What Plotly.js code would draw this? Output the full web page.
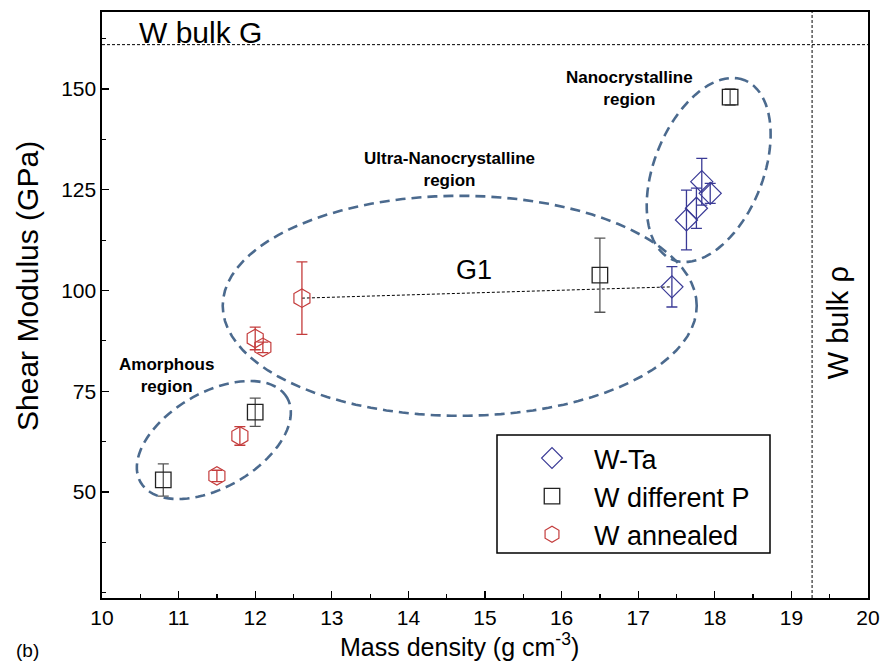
<!DOCTYPE html>
<html>
<head>
<meta charset="utf-8">
<script src="https://cdn.plot.ly/plotly-3.0.1.min.js"></script>
<style>html,body{margin:0;padding:0;background:#fff;}#chart{width:885px;height:663px;}</style>
</head>
<body>
<div id="chart"></div>
<script>
// ---- data ----
const wtaX = [17.44, 17.63, 17.76, 17.83, 17.94];
const wtaY = [100.9, 117.5, 120.4, 127.0, 124.1];
const wtaErr = [5.0, 7.4, 5.0, 5.8, 2.5];

const wpX = [10.80, 12.00, 16.50, 18.20];
const wpY = [53.0, 69.8, 103.8, 148.0];
const wpErr = [4.0, 3.5, 9.2, 2.0];

const waX = [11.50, 11.80, 12.00, 12.10, 12.61];
const waY = [54.0, 63.9, 88.1, 85.9, 98.1];
const waErr = [1.4, 2.3, 2.8, 1.3, 9.0];

const g1X = [12.61, 17.44];
const g1Y = [98.1, 100.9];

const bulkG = 161;
const bulkRho = 19.27;

const xTicks = [10, 11, 12, 13, 14, 15, 16, 17, 18, 19, 20];
const yTicks = [50, 75, 100, 125, 150];
const yMinor = [25, 37.5, 62.5, 87.5, 112.5, 137.5, 162.5];

// ---- layout geometry ----
const W = 885, H = 663;
const M = {l: 102, r: 17, t: 12, b: 65};
const PW = W - M.l - M.r, PH = H - M.t - M.b;
const xRange = [10, 20];
const yRange = [23.7, 169.1];
const sx = PW / (xRange[1] - xRange[0]);
const sy = PH / (yRange[1] - yRange[0]);
const px2paperX = p => (p - M.l) / PW;
const px2paperY = p => 1 - (p - M.t) / PH;

const FONT = 'Liberation Sans, Arial, sans-serif';
const ELL = '#4b6a8e';

function ellipsePath(cx, cy, aPx, bPx, angDeg) {
  const th = angDeg * Math.PI / 180;
  const pts = [];
  for (let i = 0; i <= 90; i++) {
    const t = 2 * Math.PI * i / 90;
    const dx = aPx * Math.cos(t) * Math.cos(th) - bPx * Math.sin(t) * Math.sin(th);
    const dy = aPx * Math.cos(t) * Math.sin(th) + bPx * Math.sin(t) * Math.cos(th);
    pts.push((cx + dx / sx).toFixed(4) + ',' + (cy + dy / sy).toFixed(4));
  }
  return 'M' + pts.join(' L') + ' Z';
}

const ellStyle = {color: ELL, width: 2.6, dash: '10px,6px'};

const traces = [
  {
    x: g1X, y: g1Y, mode: 'lines', showlegend: false, hoverinfo: 'skip',
    line: {color: '#000', width: 1, dash: '3px,2px'}
  },
  {
    name: 'W-Ta', x: wtaX, y: wtaY, mode: 'markers', type: 'scatter',
    marker: {symbol: 'diamond-open', size: 17, color: '#3a3a96', line: {width: 1.2, color: '#3a3a96'}},
    error_y: {type: 'data', array: wtaErr, visible: true, color: '#3a3a96', thickness: 1.3, width: 5.5}
  },
  {
    name: 'W different P', x: wpX, y: wpY, mode: 'markers', type: 'scatter',
    marker: {symbol: 'square-open', size: 15.5, color: '#222', line: {width: 1.3, color: '#222'}},
    error_y: {type: 'data', array: wpErr, visible: true, color: '#555', thickness: 1.3, width: 5.5}
  },
  {
    name: 'W annealed', x: waX, y: waY, mode: 'markers', type: 'scatter',
    marker: {symbol: 'hexagon-open', size: 18.5, color: '#c43c3c', line: {width: 1.2, color: '#c43c3c'}},
    error_y: {type: 'data', array: waErr, visible: true, color: '#c43c3c', thickness: 1.3, width: 5.5}
  }
];

const layout = {
  width: W, height: H,
  margin: M,
  paper_bgcolor: '#fff', plot_bgcolor: '#fff',
  font: {family: FONT, color: '#000'},
  showlegend: true,
  legend: {
    x: px2paperX(510), y: px2paperY(434), xanchor: 'left', yanchor: 'top',
    borderwidth: 0, bgcolor: 'rgba(0,0,0,0)',
    font: {family: FONT, size: 27, color: '#000'},
    itemwidth: 74, tracegroupgap: 0
  },
  xaxis: {
    range: xRange, tickmode: 'array', tickvals: xTicks,
    ticks: 'inside', ticklen: 7, tickwidth: 1.3, tickcolor: '#000',
    minor: {tickmode: 'linear', dtick: 0.5, tick0: 10, ticks: 'inside', ticklen: 4, tickwidth: 1.2, tickcolor: '#000'},
    showline: true, linecolor: '#000', linewidth: 1.6, mirror: true,
    showgrid: false, zeroline: false,
    tickfont: {family: FONT, size: 21, color: '#000'}
  },
  yaxis: {
    range: yRange, tickmode: 'array', tickvals: yTicks,
    ticks: 'inside', ticklen: 7, tickwidth: 1.3, tickcolor: '#000',
    minor: {tickmode: 'array', tickvals: yMinor, ticks: 'inside', ticklen: 4, tickwidth: 1.2, tickcolor: '#000'},
    showline: true, linecolor: '#000', linewidth: 1.6, mirror: true,
    showgrid: false, zeroline: false,
    tickfont: {family: FONT, size: 21, color: '#000'}
  },
  shapes: [
    {type: 'line', xref: 'paper', x0: 0, x1: 1, yref: 'y', y0: bulkG, y1: bulkG,
     line: {color: '#000', width: 1, dash: '3px,2px'}},
    {type: 'line', yref: 'paper', y0: 0, y1: 1, xref: 'x', x0: bulkRho, x1: bulkRho,
     line: {color: '#000', width: 1, dash: '3px,2px'}},
    {type: 'path', xref: 'x', yref: 'y', path: ellipsePath(11.46, 62.9, 84.6, 47.5, 30), line: ellStyle},
    {type: 'path', xref: 'x', yref: 'y', path: ellipsePath(14.67, 96.2, 237, 110, 0), line: ellStyle},
    {type: 'path', xref: 'x', yref: 'y', path: ellipsePath(17.92, 129.9, 96.7, 54.4, 68.2), line: ellStyle},
    // legend frame
    {type: 'rect', xref: 'paper', yref: 'paper',
     x0: px2paperX(497), x1: px2paperX(770), y0: px2paperY(553), y1: px2paperY(435),
     fillcolor: '#fff', line: {color: '#000', width: 1.5}, layer: 'above'}
  ],
  annotations: [
    {text: 'W bulk G', x: 11.28, y: 163.9, xref: 'x', yref: 'y', showarrow: false,
     font: {family: FONT, size: 30, color: '#000'}},
    {text: 'W bulk ρ', x: 19.61, y: 91.9, xref: 'x', yref: 'y', showarrow: false, textangle: -90,
     font: {family: FONT, size: 29, color: '#000'}},
    {text: 'G1', x: 14.86, y: 105.1, xref: 'x', yref: 'y', showarrow: false,
     font: {family: FONT, size: 27, color: '#000'}},
    {text: '<b>Nanocrystalline</b><br><b>region</b>', x: 16.89, y: 150.2, xref: 'x', yref: 'y', showarrow: false,
     font: {family: FONT, size: 17, color: '#000'}},
    {text: '<b>Ultra-Nanocrystalline</b><br><b>region</b>', x: 14.53, y: 130.1, xref: 'x', yref: 'y', showarrow: false,
     font: {family: FONT, size: 17, color: '#000'}},
    {text: '<b>Amorphous</b><br><b>region</b>', x: 10.84, y: 78.8, xref: 'x', yref: 'y', showarrow: false,
     font: {family: FONT, size: 17, color: '#000'}},
    {text: '(b)', x: px2paperX(27), y: px2paperY(650), xref: 'paper', yref: 'paper', showarrow: false,
     xanchor: 'center', yanchor: 'middle', font: {family: FONT, size: 19, color: '#000'}},
    {text: 'Mass density (g cm<sup>-3</sup>)', x: px2paperX(459), y: px2paperY(645), xref: 'paper', yref: 'paper',
     showarrow: false, xanchor: 'center', yanchor: 'middle', font: {family: FONT, size: 25, color: '#000'}},
    {text: 'Shear Modulus (GPa)', x: px2paperX(27), y: px2paperY(286), xref: 'paper', yref: 'paper',
     showarrow: false, textangle: -90, xanchor: 'center', yanchor: 'middle', font: {family: FONT, size: 30, color: '#000'}}
  ]
};

Plotly.newPlot('chart', traces, layout, {displayModeBar: false, staticPlot: true});
</script>
</body>
</html>
